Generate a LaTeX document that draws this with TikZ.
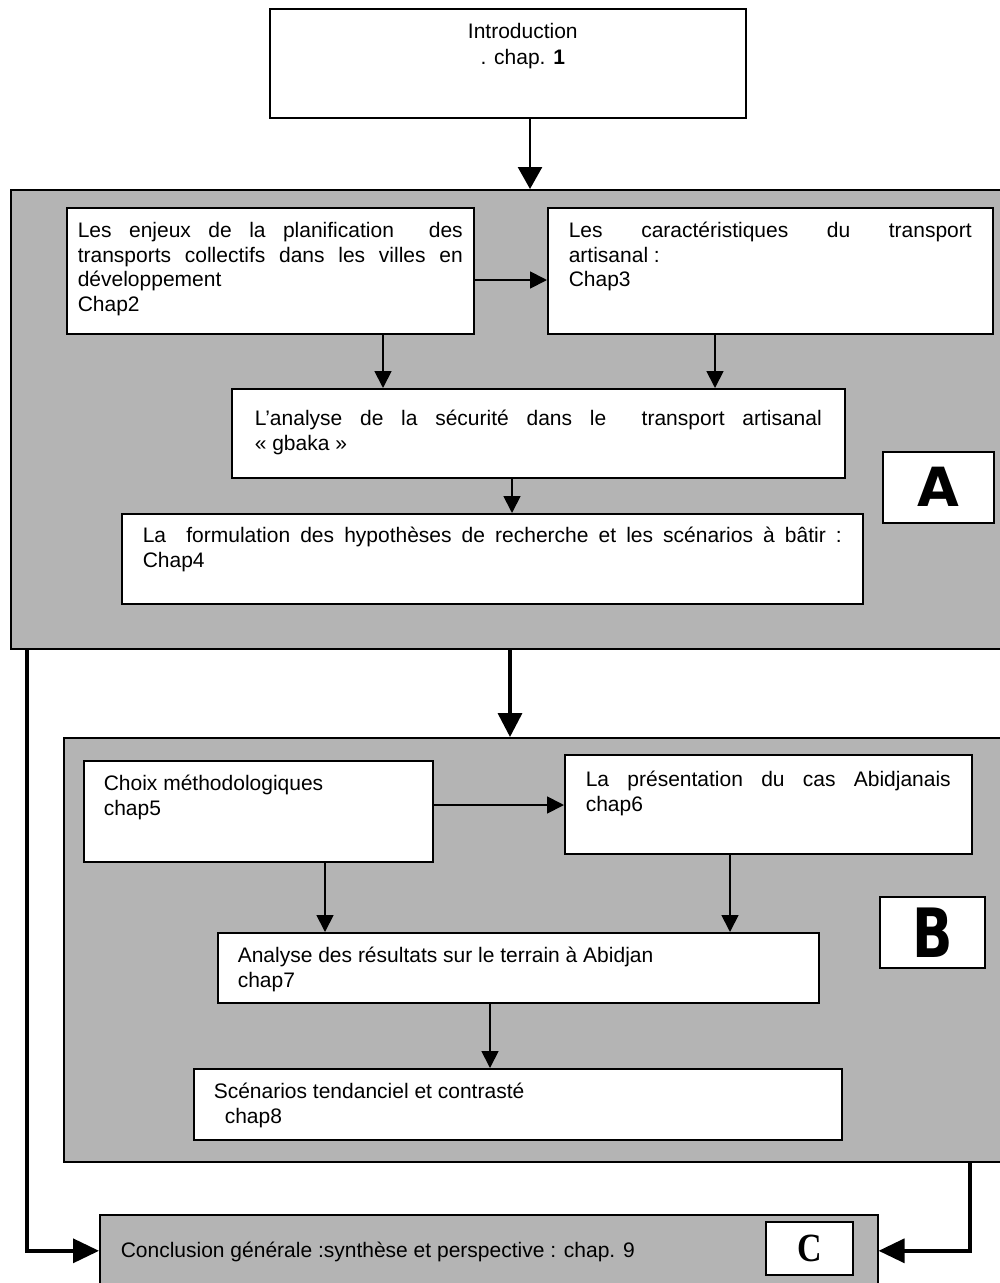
\documentclass[tikz,border=0pt]{standalone}
\usepackage{fontspec}
\setmainfont{Liberation Sans}
\newfontfamily\handfont{DejaVu Sans}
\newfontfamily\letterfont{Liberation Serif}
\usetikzlibrary{arrows.meta}
\definecolor{panelgray}{RGB}{180,180,180}
% first-line strut: distance from the top of a box to the first baseline
\newcommand\firstline[1]{\rule{0pt}{#1pt}}
% a justified line spread over the whole text width
\newcommand\fullline[1]{\makebox[\linewidth][s]{#1}}

\begin{document}
\begin{tikzpicture}[x=1pt,y=-1pt,
  panel/.style={draw, line width=1.6pt, fill=panelgray, inner sep=0pt, anchor=north west},
  textbox/.style={draw, line width=1.6pt, fill=white, inner ysep=0pt, anchor=north west,
                  font=\fontsize{21}{24.5}\selectfont},
  tagbox/.style={draw, line width=1.6pt, fill=white, inner sep=0pt, anchor=north west},
  link/.style={line width=1.8pt, -{Triangle[length=17pt,width=17pt]}},
  heavy/.style={line width=3.5pt, -{Triangle[length=24pt,width=24pt]}},
  loopback/.style={line width=3.5pt, -{Triangle[length=26pt,width=24pt]}}
]
\useasboundingbox (0,0) rectangle (1000,1283);

% ---- the two shaded parts and the conclusion band
\node[panel, minimum width=1000pt, minimum height=459pt] (grpA) at (10,189) {};
\node[panel, minimum width=950pt, minimum height=424pt] (grpB) at (63,737) {};
\node[panel, minimum width=778pt, minimum height=72pt, inner xsep=21pt, inner ysep=0pt,
      font=\fontsize{21}{24.5}\selectfont] (concl) at (99,1214)
  {\parbox[c][72pt][t]{736pt}{\firstline{43}Conclusion générale :synthèse et perspective : chap. 9}};

% ---- introduction
\node[textbox, inner xsep=0pt] (intro) at (269,8)
  {\parbox[c][109pt][t]{476pt}{\centering\firstline{30}\hspace*{30pt}Introduction\\[1.5pt]
   \hspace*{30pt}. chap. \textbf{1}}};

% ---- part A
\node[textbox, inner xsep=11pt] (c2) at (66,207)
  {\parbox[c][126pt][t]{385pt}{\firstline{30}\fullline{Les enjeux de la planification\ \ des}\\
   \fullline{transports collectifs dans les villes en}\\
   développement\\
   Chap2}};
\node[textbox, inner xsep=21pt] (c3) at (547,207)
  {\parbox[c][126pt][t]{403pt}{\firstline{30}\fullline{Les caractéristiques du transport}\\
   artisanal :\\
   Chap3}};
\node[textbox, inner xsep=23pt] (an) at (231,388)
  {\parbox[c][89pt][t]{567pt}{\firstline{37}\fullline{L’analyse de la sécurité dans le\ \ transport artisanal}\\
   « gbaka »}};
\node[textbox, inner xsep=21pt] (fo) at (121,513)
  {\parbox[c][90pt][t]{699pt}{\firstline{29}\fullline{La\ \ formulation des hypothèses de recherche et les scénarios à bâtir :}\\
   Chap4}};
\node[tagbox, minimum width=111pt, minimum height=71pt] (tagA) at (882,451)
  {\handfont\bfseries\fontsize{54}{54}\selectfont A};

% ---- part B
\node[textbox, inner xsep=20pt] (c5) at (83,760)
  {\parbox[c][101pt][t]{309pt}{\firstline{30}Choix méthodologiques\\
   chap5}};
\node[textbox, inner xsep=21pt] (c6) at (564,754)
  {\parbox[c][99pt][t]{365pt}{\firstline{32}\fullline{La présentation du cas Abidjanais}\\
   chap6}};
\node[textbox, inner xsep=20pt] (c7) at (217,932)
  {\parbox[c][70pt][t]{561pt}{\firstline{30}Analyse des résultats sur le terrain à Abidjan\\
   chap7}};
\node[textbox, inner xsep=20pt] (c8) at (193,1068)
  {\parbox[c][71pt][t]{608pt}{\firstline{30}Scénarios tendanciel et contrasté\\
   \hspace*{11pt}chap8}};
\node[tagbox, minimum width=105pt, minimum height=71pt] (tagB) at (879,896)
  {\handfont\bfseries\fontsize{68}{68}\selectfont\scalebox{0.78}[1]{B}};

% ---- part C
\node[tagbox, minimum width=87pt, minimum height=53pt] (tagC) at (765,1221)
  {\letterfont\bfseries\fontsize{40}{40}\selectfont\scalebox{0.85}[1]{C}};

% ---- connector columns and rows
\coordinate (xIntro) at (530,0);
\coordinate (yTop)   at (0,280);
\coordinate (xL2)    at (383,0);
\coordinate (xR3)    at (715,0);
\coordinate (xAn)    at (512,0);
\coordinate (xMid)   at (510,0);
\coordinate (yMid)   at (0,805);
\coordinate (xL5)    at (325,0);
\coordinate (xR6)    at (730,0);
\coordinate (xC7)    at (490,0);
\coordinate (xLeft)  at (27,0);
\coordinate (xRight) at (970,0);

\draw[link, line width=2.6pt, -{Triangle[length=22pt,width=24pt]}] (intro.south -| xIntro) -- (grpA.north -| xIntro);
\draw[link] (c2.east |- yTop) -- (c3.west |- yTop);
\draw[link] (c2.south -| xL2) -- (an.north -| xL2);
\draw[link] (c3.south -| xR3) -- (an.north -| xR3);
\draw[link] (an.south -| xAn) -- (fo.north -| xAn);
\draw[heavy] (grpA.south -| xMid) -- (grpB.north -| xMid);
\draw[link] (c5.east |- yMid) -- (c6.west |- yMid);
\draw[link] (c5.south -| xL5) -- (c7.north -| xL5);
\draw[link] (c6.south -| xR6) -- (c7.north -| xR6);
\draw[link] (c7.south -| xC7) -- (c8.north -| xC7);
\draw[loopback] (grpA.south -| xLeft) |- (concl.west);
\draw[loopback] (grpB.south -| xRight) |- (concl.east);
\end{tikzpicture}
\end{document}
